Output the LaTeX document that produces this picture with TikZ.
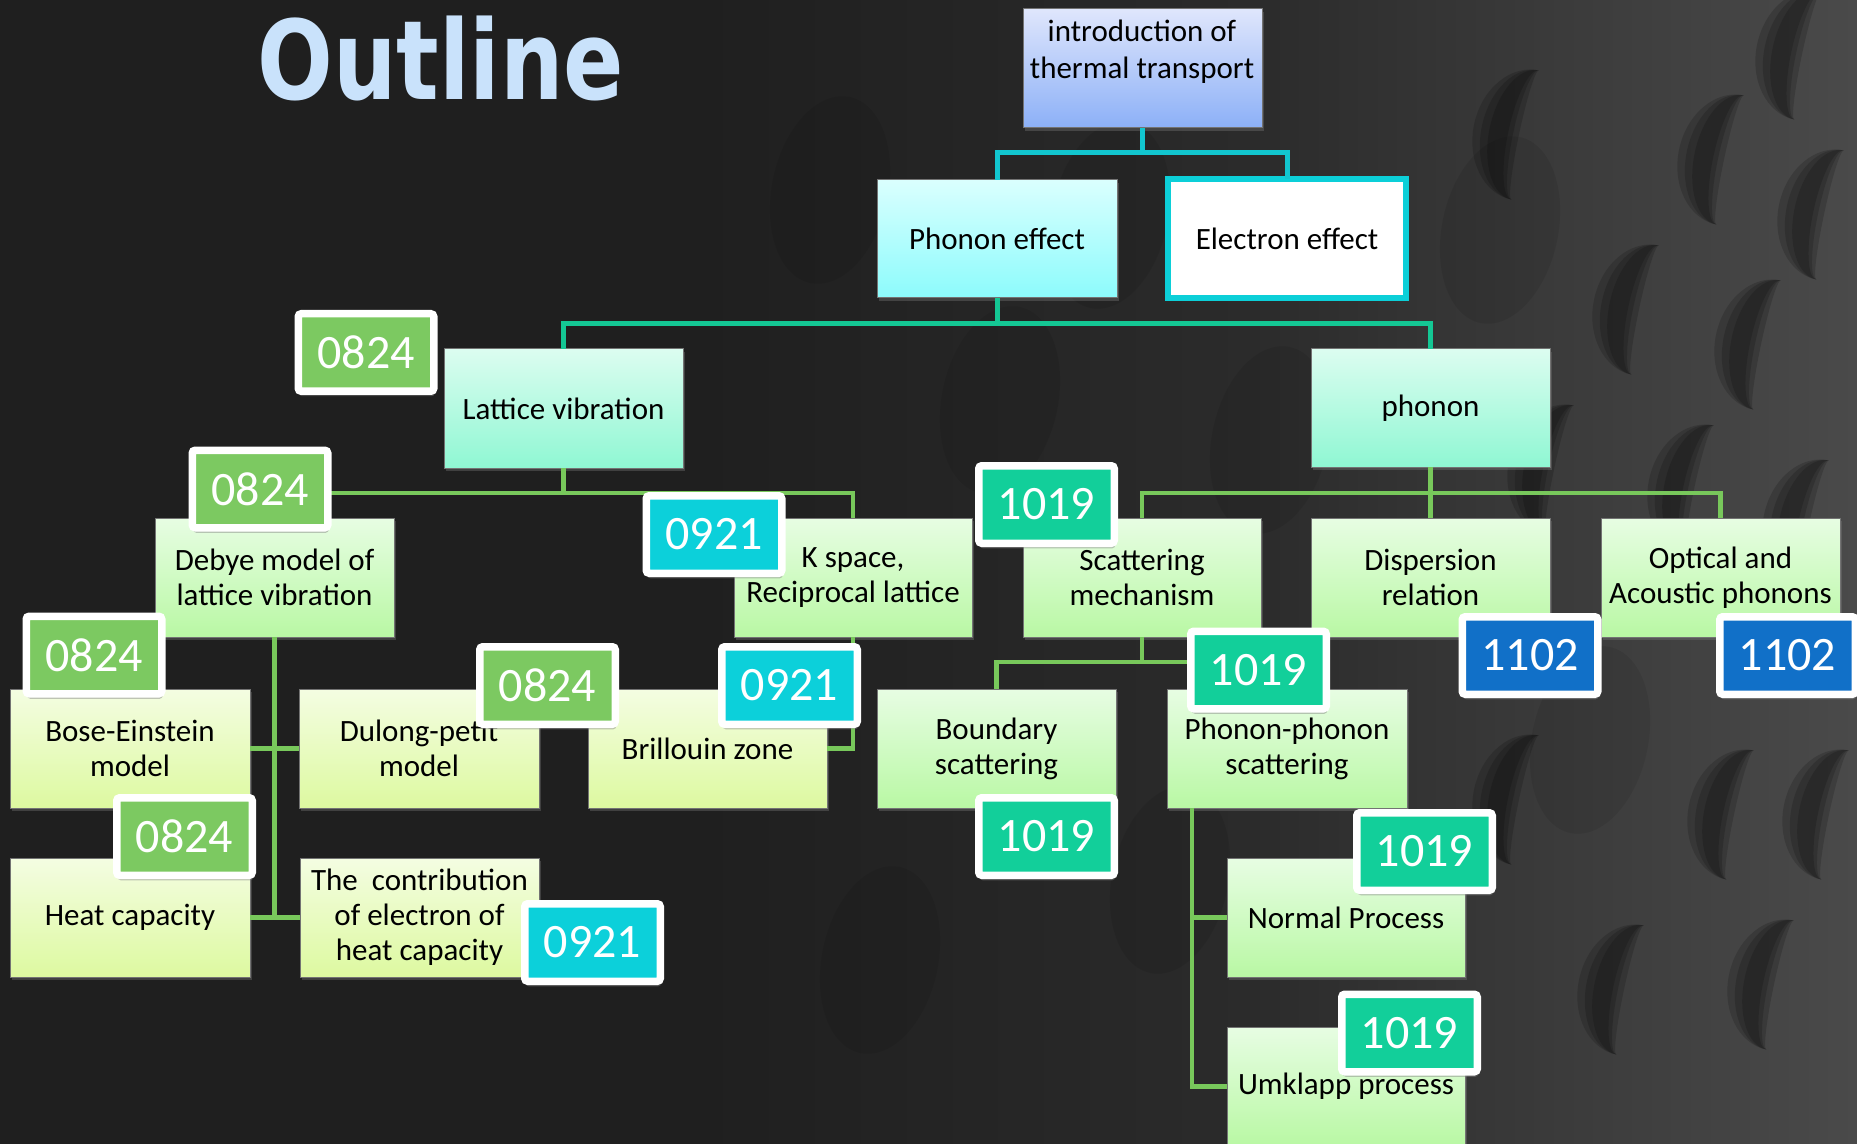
\documentclass[tikz,border=0pt]{standalone}
\usepackage{fontspec}
\setmainfont{Carlito}
\newfontfamily\titlefont{DejaVu Sans}
\usetikzlibrary{shadows,calc}
\definecolor{bgdark}{HTML}{1F1F1F}
\definecolor{bgmid}{HTML}{2B2B2B}
\definecolor{bglight}{HTML}{4A4A4A}
\definecolor{titleblue}{HTML}{C9E2FB}
\definecolor{lineA}{HTML}{12C6CF}
\definecolor{lineB}{HTML}{14C794}
\definecolor{lineC}{HTML}{78C85B}
\definecolor{introT}{HTML}{DFE6FC}
\definecolor{introB}{HTML}{8CB0F7}
\definecolor{peT}{HTML}{DAFFFE}
\definecolor{peB}{HTML}{8CFBFC}
\definecolor{mintT}{HTML}{DCFDF0}
\definecolor{mintB}{HTML}{8FF7D3}
\definecolor{greenT}{HTML}{E7FDE3}
\definecolor{greenB}{HTML}{B9F8A4}
\definecolor{yelT}{HTML}{F4FDE2}
\definecolor{yelB}{HTML}{DDF9A0}
\definecolor{eeline}{HTML}{0CCFD8}
\definecolor{bgreen}{HTML}{7CC961}
\definecolor{bcyan}{HTML}{0CD0DA}
\definecolor{bteal}{HTML}{12CF9A}
\definecolor{bblue}{HTML}{1170C8}
\newcommand\bbox[7]{%
  \node[#6, minimum width={(#4-#2)*0.5pt}, minimum height={(#5-#3)*0.5pt}]
    (#1) at ({(#2+#4)/2},{(#3+#5)/2}) {#7};}
\newcommand\badge[5]{\node[badgest, fill=#4] (#1) at (#2,#3) {#5};}
\newcommand\crsone[2]{%
  \fill[black, opacity=0.16] (0,-66) arc[start angle=270, end angle=90, x radius=#1, y radius=66]
      arc[start angle=90, end angle=270, x radius=#2, y radius=66] -- cycle;}
\newcommand\crs[3]{%
  \begin{scope}[shift={(#1,#2)}, rotate=#3]
    \crsone{52}{6}\crsone{44}{12}\crsone{36}{17}
  \end{scope}}
\newcommand\hole[2]{\fill[black, opacity=0.08] (#1,#2) ellipse[x radius=58, y radius=95, rotate=-12];}
\begin{document}
\begin{tikzpicture}[x=0.5pt,y=-0.5pt,
  box/.style={draw=black!55, line width=0.5pt, inner sep=2pt, outer sep=0pt, align=center,
    font=\fontsize{15.5}{17.5}\selectfont, text=black,
    drop shadow={opacity=0.35, shadow xshift=1pt, shadow yshift=-1.5pt}},
  introbox/.style={box, top color=introT, bottom color=introB},
  pebox/.style={box, top color=peT, bottom color=peB},
  eebox/.style={box, fill=white, draw=eeline, line width=3pt},
  mintbox/.style={box, top color=mintT, bottom color=mintB},
  greenbox/.style={box, top color=greenT, bottom color=greenB},
  yelbox/.style={box, top color=yelT, bottom color=yelB},
  badgest/.style={draw=white, line width=3.75pt, rounded corners=1.5pt,
    minimum width=67.75pt, minimum height=38.75pt, inner sep=0pt, text=white,
    font=\fontsize{24}{24}\selectfont,
    drop shadow={opacity=0.45, shadow xshift=0.5pt, shadow yshift=-2.5pt}},
  l1/.style={draw=lineA, line width=2.5pt},
  l2/.style={draw=lineB, line width=2.5pt},
  l3/.style={draw=lineC, line width=2.3pt}
]
% ---------- background ----------
\fill[bgdark] (0,0) rectangle (1857,1144);
\shade[left color=bgdark, right color=bgmid] (700,0) rectangle (1250,1144);
\shade[left color=bgmid, right color=bglight] (1250,0) rectangle (1857,1144);
\useasboundingbox (0,0) rectangle (1857,1144);
\hole{830}{190}
\hole{1110}{215}
\hole{1000}{400}
\hole{1270}{440}
\hole{1170}{880}
\hole{880}{960}
\hole{1500}{230}
\hole{1590}{740}
\crs{1808}{55}{-12}
\crs{1730}{160}{-12}
\crs{1830}{215}{-12}
\crs{1645}{310}{-12}
\crs{1767}{345}{-12}
\crs{1525}{135}{-12}
\crs{1700}{490}{-12}
\crs{1815}{525}{-12}
\crs{1525}{800}{-12}
\crs{1740}{815}{-12}
\crs{1835}{815}{-12}
\crs{1630}{990}{-12}
\crs{1780}{985}{-12}
\crs{1560}{470}{-12}
% ---------- title ----------
\node[anchor=base, text=titleblue, inner sep=0pt,
  font=\titlefont\bfseries\fontsize{55}{55}\selectfont] (title) at (441,100)
  {\scalebox{0.81}[1]{Outline}};
% ---------- boxes ----------
\bbox{intro}{1023}{9}{1262}{128}{introbox}{}
\node[align=center, font=\fontsize{15.5}{18.5}\selectfont, inner sep=0pt] (introtext) at (1142,52)
  {introduction of\\thermal transport};
\bbox{pe}{877}{180}{1117}{298}{pebox}{Phonon effect}
\bbox{ee}{1168}{179}{1406}{298}{eebox}{Electron effect}
\bbox{lv}{444}{349}{683}{468}{mintbox}{Lattice vibration}
\bbox{ph}{1311}{349}{1550}{467}{mintbox}{phonon}
\bbox{debye}{155}{518}{394}{637}{greenbox}{Debye model of\\lattice vibration}
\bbox{ks}{734}{518}{972}{637}{greenbox}{K space,\\Reciprocal lattice}
\bbox{sm}{1023}{518}{1261}{637}{greenbox}{Scattering\\mechanism}
\bbox{dr}{1311}{518}{1550}{637}{greenbox}{Dispersion\\relation}
\bbox{oa}{1601}{518}{1840}{637}{greenbox}{Optical and\\Acoustic phonons}
\bbox{be}{10}{689}{250}{808}{yelbox}{Bose-Einstein\\model}
\bbox{dp}{299}{689}{539}{808}{yelbox}{Dulong-petit\\model}
\bbox{bz}{588}{689}{827}{808}{yelbox}{Brillouin zone}
\bbox{bs}{877}{689}{1116}{808}{greenbox}{Boundary\\scattering}
\bbox{pp}{1167}{689}{1407}{808}{greenbox}{Phonon-phonon\\scattering}
\bbox{hc}{10}{858}{250}{977}{yelbox}{Heat capacity}
\bbox{ce}{300}{858}{539}{977}{yelbox}{The\ \ contribution\\of electron of\\heat capacity}
\bbox{np}{1227}{858}{1465}{977}{greenbox}{Normal Process}
\bbox{up}{1227}{1027}{1465}{1146}{greenbox}{Umklapp process}
% ---------- connectors ----------
\coordinate (j1) at (intro.south |- 0,153);
\coordinate (j2) at (pe.south |- 0,324);
\coordinate (j3a) at (lv.south |- 0,493);
\coordinate (j3b) at (ph.south |- 0,493);
\coordinate (j4) at (sm.south |- 0,662);
\coordinate (ppv) at ($(pp.south west)+(25,0)$);
\draw[l1] (intro.south) -- (j1);
\draw[l1] (pe.north) |- (j1) -| (ee.north);
\draw[l2] (pe.south) -- (j2);
\draw[l2] (lv.north) |- (j2) -| (ph.north);
\draw[l3] (lv.south) -- (j3a);
\draw[l3] (debye.north) |- (j3a) -| (ks.north);
\draw[l3] (ph.south) -- (dr.north);
\draw[l3] (sm.north) |- (j3b) -| (oa.north);
\draw[l3] (sm.south) -- (j4);
\draw[l3] (bs.north) |- (j4) -| (pp.north);
\draw[l3] (debye.south) -- (debye.south |- hc.east);
\draw[l3] (be.east) -- (dp.west);
\draw[l3] (hc.east) -- (ce.west);
\draw[l3] (ks.south) |- (bz.east);
\draw[l3] (ppv) |- (np.west);
\draw[l3] (ppv) |- (up.west);
% ---------- badges ----------
\badge{b1}{366}{352.5}{bgreen}{0824}
\badge{b2}{260}{489}{bgreen}{0824}
\badge{b3}{714}{534.5}{bcyan}{0921}
\badge{b4}{94}{655}{bgreen}{0824}
\badge{b5}{547.5}{685.5}{bgreen}{0824}
\badge{b6}{789.5}{685.5}{bcyan}{0921}
\badge{b7}{184.5}{836.5}{bgreen}{0824}
\badge{b8}{592.5}{942.5}{bcyan}{0921}
\badge{b9}{1046.5}{504.5}{bteal}{1019}
\badge{b10}{1530}{655.5}{bblue}{1102}
\badge{b11}{1787.5}{655.5}{bblue}{1102}
\badge{b12}{1258.5}{670}{bteal}{1019}
\badge{b13}{1046.5}{836.5}{bteal}{1019}
\badge{b14}{1424.5}{851.5}{bteal}{1019}
\badge{b15}{1409.5}{1033}{bteal}{1019}
\end{tikzpicture}
\end{document}
